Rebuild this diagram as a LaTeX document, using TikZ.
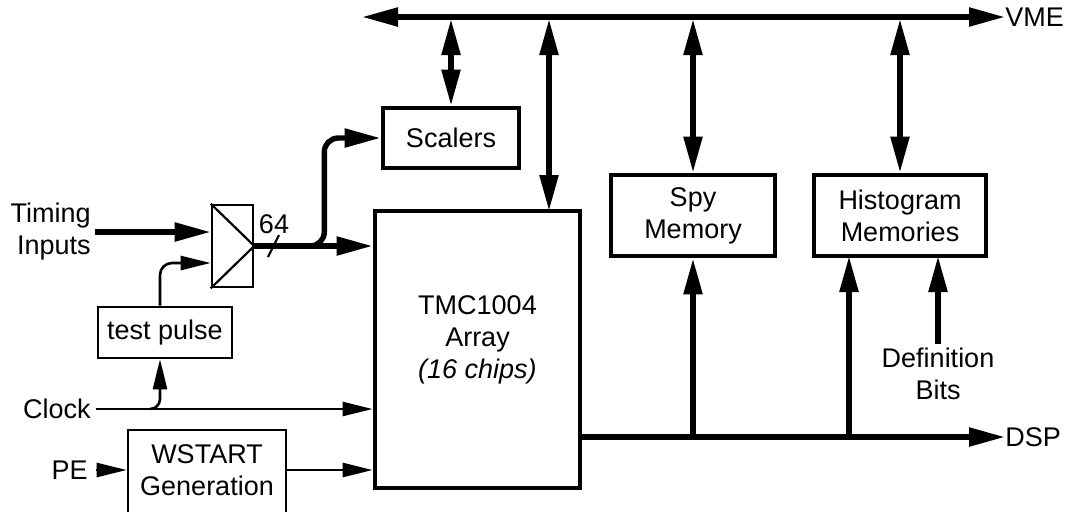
\documentclass[tikz,border=0pt]{standalone}
\usepackage{fontspec}
\setmainfont{Liberation Sans}
\usetikzlibrary{arrows.meta}

\begin{document}
\begin{tikzpicture}[x=0.5pt, y=-0.5pt,
    >={Triangle[length=18pt, width=9pt]},
    font=\fontsize{13.5}{16}\selectfont,
    block/.style={draw, line width=2.4pt, inner sep=0pt, align=center},
    thinblock/.style={draw, line width=1.3pt, inner sep=0pt, align=center},
    bus/.style={line width=2.7pt},
    wire/.style={line width=1.3pt, >={Triangle[length=15pt, width=7pt]}},
    lbl/.style={inner sep=0pt, align=center}]

    \useasboundingbox (0,0) rectangle (1080,511);

    % bus lines
    \node[lbl, anchor=west] (VME) at (1005,17) {VME};
    \coordinate (vmeL) at (362,17);
    \coordinate (bus) at (0,19);
    \draw[bus, <->] (vmeL) -- (VME.west);

    % blocks
    \node[block, minimum width=68pt, minimum height=30pt] (Scalers) at (451,138) {Scalers};
    \node[block, minimum width=102.5pt, minimum height=138.5pt] (TMC) at (477.5,349.5) {};
    \node[lbl] (TMCtext) at (477.5,340) {TMC1004\\Array\\\textit{(16 chips)}};
    \node[block, minimum width=82pt, minimum height=40.5pt] (Spy) at (693,215.5) {Spy\\Memory};
    \node[block, minimum width=86pt, minimum height=40.5pt] (Hist) at (900,215.5) {Histogram\\Memories};
    \node[thinblock, minimum width=67pt, minimum height=25.5pt] (testpulse) at (165,332.5) {test pulse};
    \node[thinblock, minimum width=79pt, minimum height=42pt] (WSTART) at (207,472) {};
    \node[lbl] (WSTARTtext) at (207,470) {WSTART\\Generation};
    \node[thinblock, minimum width=20.5pt, minimum height=41pt] (mux) at (232.5,246) {};
    \draw[line width=1.1pt] (mux.north west) -- (mux.east) -- (mux.south west);

    % inputs
    \node[lbl, align=right, anchor=east] (Timing) at (91,232) {Timing\\Inputs};
    \node[lbl, anchor=east] (Clock) at (91,409) {Clock};
    \node[lbl, anchor=east] (PE) at (88,470) {PE};
    \node[lbl] (Def) at (938,374) {Definition\\Bits};
    \node[lbl] (n64) at (274,224) {64};

    % VME connections
    \coordinate (tmcin) at (549,211);
    \draw[bus, <->] (Scalers.north |- bus) -- (Scalers.north);
    \draw[bus, <->] (tmcin |- bus) -- (tmcin);
    \draw[bus, <->] (Spy.north |- bus) -- (Spy.north);
    \draw[bus, <->] (Hist.north |- bus) -- (Hist.north);

    % DSP output
    \node[lbl, anchor=west] (DSP) at (1005,437) {DSP};
    \coordinate (dspout) at (578,437);
    \coordinate (histin) at (849,256);
    \coordinate (defin) at (938,256);
    \draw[bus, ->] (dspout) -- (DSP.west);
    \draw[bus, ->] (Spy.south |- dspout) -- (Spy.south);
    \draw[bus, ->] (histin |- dspout) -- (histin);
    \draw[bus, ->] (defin |- Def.north) ++(0,-4) -- (defin);

    % timing path
    \draw[bus, ->] (Timing.east) ++(4,0) -- (Timing.east -| mux.west);
    \draw[bus, ->] (mux.east) -- (mux.east -| TMC.west);
    \draw[bus, ->, rounded corners=7pt] (mux.east) -- ++(70,0) |- (Scalers.west);
    \draw[line width=1.1pt] (268,257) -- (279,235);
    \draw[wire, ->, rounded corners=6pt] ([xshift=-2.5pt]testpulse.north) |- ([yshift=-8.5pt]mux.west);

    % clock and start
    \coordinate (clkbr) at (150,409);
    \draw[wire, ->] (Clock.east) ++(5,0) -- (Clock.east -| TMC.west);
    \draw[wire, ->, rounded corners=5pt] (clkbr) -| ([xshift=-2.5pt]testpulse.south);
    \draw[wire, ->] (PE.east) ++(8,0) -- (PE.east -| WSTART.west);
    \draw[wire, ->] (WSTART.east |- WSTARTtext) -- (WSTARTtext -| TMC.west);

\end{tikzpicture}
\end{document}
